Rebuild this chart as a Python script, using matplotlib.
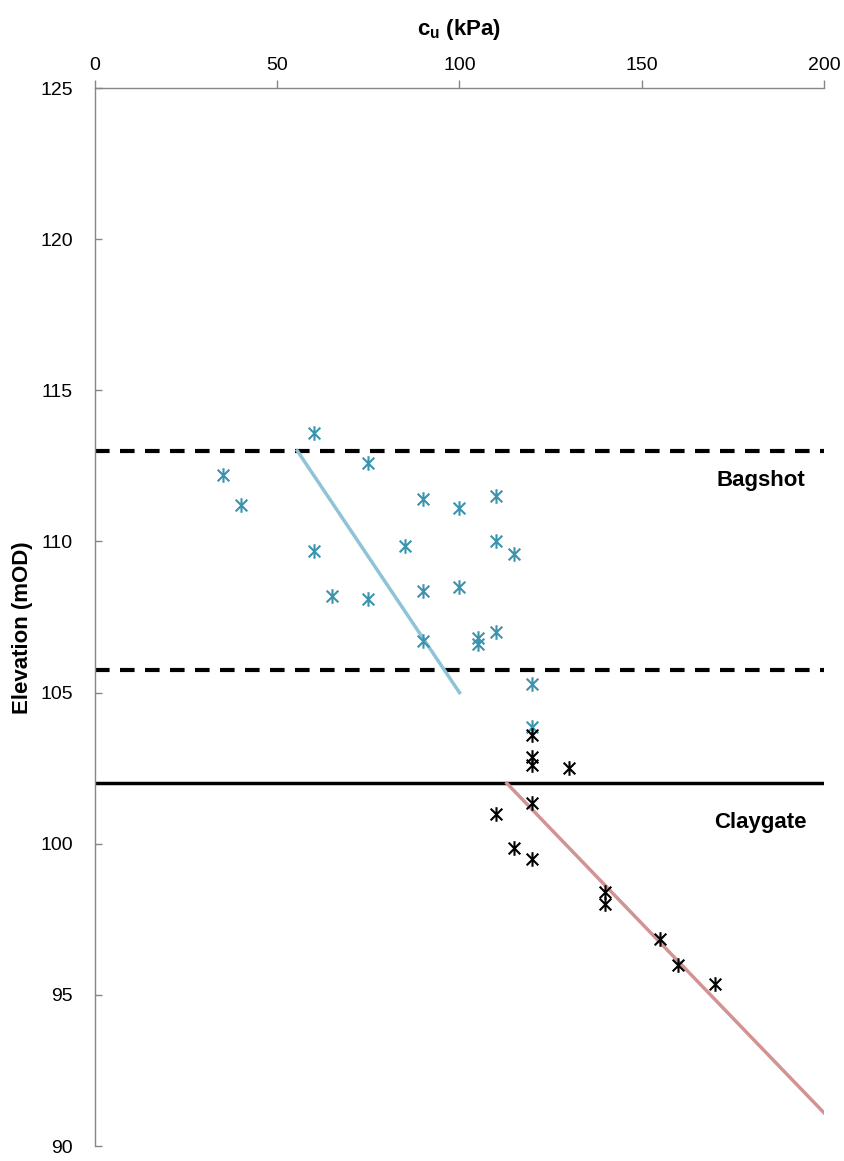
import numpy as np
import matplotlib.pyplot as plt
from matplotlib.path import Path

plt.rcParams['font.family'] = ['Liberation Sans', 'DejaVu Sans']
plt.rcParams['mathtext.default'] = 'regular'

# --- data ---
# Bagshot samples (blue)
bag_cu = [35, 40, 60, 75, 60, 65, 75, 85, 90, 90, 90, 100, 100, 105, 105,
          110, 110, 110, 115, 120, 120]
bag_el = [112.2, 111.2, 113.6, 112.6, 109.7, 108.2, 108.1, 109.85, 111.4,
          108.35, 106.7, 111.1, 108.5, 106.8, 106.6, 111.5, 110.0, 107.0,
          109.6, 105.3, 103.85]

# Claygate samples (black)
clay_cu = [120, 120, 120, 130, 120, 110, 115, 120, 140, 140, 155, 160, 170]
clay_el = [103.6, 102.87, 102.6, 102.5, 101.35, 101.0, 99.85, 99.5, 98.4,
           98.0, 96.85, 96.0, 95.35]

# design lines
bag_line_cu = [55.5, 100]
bag_line_el = [113.0, 105.0]
clay_line_cu = [113, 200]
clay_line_el = [102.0, 91.1]

# layer boundaries
dash_levels = [113.0, 105.75]
solid_level = 102.0

# Excel style star marker: X with a vertical stroke
star = Path([(-1, -1), (1, 1), (-1, 1), (1, -1), (0, -1.25), (0, 1.25)],
            [Path.MOVETO, Path.LINETO, Path.MOVETO, Path.LINETO,
             Path.MOVETO, Path.LINETO])

axis_grey = '#868686'

fig = plt.figure(figsize=(8.45, 11.61), dpi=100)
ax = fig.add_axes([0.1124, 0.0129, 0.8627, 0.9113])

for lv in dash_levels:
    ax.axhline(lv, color='black', linestyle=(0, (3.5, 2.5)), linewidth=3, zorder=2)
ax.axhline(solid_level, color='black', linewidth=2.5, zorder=2)

ax.plot(bag_line_cu, bag_line_el, color='#8fc3d6', linewidth=2.5, zorder=3)
ax.plot(clay_line_cu, clay_line_el, color='#d29393', linewidth=2.5, zorder=3)

ax.plot(bag_cu, bag_el, linestyle='none', marker=star, markersize=10.5,
        markeredgewidth=1.5, color='#3b93ad', zorder=4)
ax.plot(clay_cu, clay_el, linestyle='none', marker=star, markersize=10.5,
        markeredgewidth=1.5, color='black', zorder=4)

ax.text(182.7, 112.03, 'Bagshot', fontsize=16, fontweight='bold', ha='center', va='center')
ax.text(182.5, 100.7, 'Claygate', fontsize=16, fontweight='bold', ha='center', va='center')

ax.set_xlim(0, 200)
ax.set_ylim(90, 125)
ax.set_xticks([0, 50, 100, 150, 200])
ax.set_yticks([90, 95, 100, 105, 110, 115, 120, 125])
ax.xaxis.tick_top()
ax.xaxis.set_label_position('top')
ax.spines['bottom'].set_visible(False)
ax.spines['right'].set_visible(False)
for s in ('top', 'left'):
    ax.spines[s].set_color(axis_grey)
    ax.spines[s].set_linewidth(1.0)
ax.tick_params(axis='x', labelsize=14, length=6, width=1.0, color=axis_grey,
               direction='out', pad=4)
ax.tick_params(axis='y', labelsize=14, length=5, width=1.0, color=axis_grey,
               direction='in', pad=16)
ax.set_xlabel('c$_u$ (kPa)', fontsize=16, fontweight='bold', labelpad=16)
ax.set_ylabel('Elevation (mOD)', fontsize=16, fontweight='bold', labelpad=12)
ax.yaxis.set_label_coords(-0.085, 0.49)

fig.savefig('out.png', dpi=100)
